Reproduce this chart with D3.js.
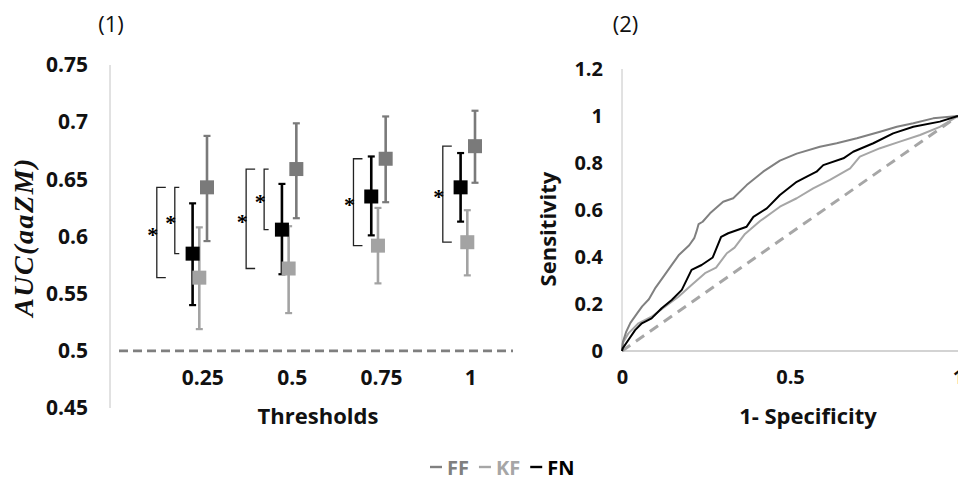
<!DOCTYPE html>
<html>
<head>
<meta charset="utf-8">
<script src="https://cdn.jsdelivr.net/npm/d3@7/dist/d3.min.js"></script>
<style>
  html, body { margin: 0; padding: 0; background: #fff; }
  svg { display: block; }
  text { font-family: "Open Sans", "Noto Sans", sans-serif; }
</style>
</head>
<body>
<svg id="chart" width="958" height="481"></svg>
<script>
// ---------- DATA ----------
const thresholds = ["0.25", "0.5", "0.75", "1"];
const seriesNames = ["FF", "KF", "FN"];

const ffMean  = [0.643, 0.659, 0.668, 0.679];
const ffLow   = [0.596, 0.616, 0.630, 0.647];
const ffHigh  = [0.688, 0.699, 0.705, 0.710];

const kfMean  = [0.564, 0.572, 0.592, 0.595];
const kfLow   = [0.519, 0.533, 0.559, 0.566];
const kfHigh  = [0.608, 0.609, 0.625, 0.623];

const fnMean  = [0.585, 0.606, 0.635, 0.643];
const fnLow   = [0.540, 0.567, 0.601, 0.613];
const fnHigh  = [0.629, 0.646, 0.670, 0.673];

const chanceAUC = 0.5;

const leftYTicks  = [0.45, 0.5, 0.55, 0.6, 0.65, 0.7, 0.75];
const rightYTicks = [0, 0.2, 0.4, 0.6, 0.8, 1, 1.2];
const rightXTicks = [0, 0.5, 1];

// significance brackets: threshold, from series, to series, nesting level
const sigThreshold = ["0.25", "0.25", "0.5", "0.5", "0.75", "1"];
const sigFrom      = ["FF", "FF", "FF", "FF", "FF", "FF"];
const sigTo        = ["KF", "FN", "KF", "FN", "KF", "KF"];
const sigLevel     = [2, 1, 2, 1, 1, 1];

// ROC curves [1-specificity, sensitivity]
const rocFF = [[0,0],[0.003,0.04],[0.012,0.08],[0.025,0.12],[0.045,0.16],[0.06,0.19],[0.08,0.22],
  [0.1,0.27],[0.125,0.32],[0.145,0.36],[0.17,0.41],[0.2,0.45],[0.215,0.48],[0.222,0.51],[0.228,0.54],
  [0.24,0.55],[0.262,0.586],[0.301,0.635],[0.331,0.65],[0.371,0.706],[0.42,0.763],[0.47,0.81],
  [0.52,0.84],[0.589,0.869],[0.639,0.884],[0.699,0.905],[0.768,0.933],[0.818,0.954],[0.867,0.969],
  [0.926,0.99],[1,1]];
const rocKF = [[0,0],[0.002,0.033],[0.019,0.075],[0.049,0.118],[0.088,0.146],[0.128,0.189],[0.168,0.231],
  [0.207,0.281],[0.247,0.331],[0.28,0.355],[0.312,0.416],[0.335,0.44],[0.366,0.498],[0.411,0.553],
  [0.47,0.614],[0.52,0.65],[0.569,0.692],[0.619,0.728],[0.679,0.777],[0.708,0.827],[0.768,0.863],
  [0.827,0.891],[0.887,0.919],[0.946,0.954],[1,1]];
const rocFN = [[0,0],[0.002,0.011],[0.019,0.047],[0.039,0.089],[0.059,0.118],[0.088,0.139],[0.118,0.182],
  [0.148,0.217],[0.178,0.26],[0.207,0.345],[0.237,0.366],[0.27,0.398],[0.295,0.486],[0.316,0.501],
  [0.371,0.529],[0.391,0.571],[0.431,0.607],[0.47,0.664],[0.52,0.72],[0.55,0.742],[0.579,0.763],
  [0.599,0.791],[0.659,0.82],[0.688,0.848],[0.748,0.884],[0.807,0.926],[0.867,0.954],[0.946,0.976],[1,1]];
const rocChance = [[0,0],[1,1]];

// ---------- STYLE ----------
const colors = { FF: "#7a7a7a", KF: "#a3a3a3", FN: "#000000" };
const lineColors = { FF: "#808080", KF: "#a6a6a6", FN: "#000000" };
const offsets = { FN: -6.7, KF: 0, FF: 7.7 };
const axisGray = "#c4c4c4";

const svg = d3.select("#chart");

const seriesData = {
  FF: { mean: ffMean, low: ffLow, high: ffHigh },
  KF: { mean: kfMean, low: kfLow, high: kfHigh },
  FN: { mean: fnMean, low: fnLow, high: fnHigh }
};

// ---------- LEFT PANEL ----------
const yL = d3.scaleLinear().domain([0.45, 0.75]).range([408, 65]);
const xL = d3.scalePoint().domain(thresholds).range([199.3, 467.3]);

svg.append("text").attr("x", 111).attr("y", 32).attr("text-anchor", "middle")
  .style("font-size", "22px").attr("fill", "#111").text("(1)");

// y axis
const gyL = svg.append("g").attr("transform", "translate(110,0)")
  .call(d3.axisLeft(yL).tickValues(leftYTicks).tickSize(0).tickPadding(22).tickFormat(d => String(d)));
gyL.select(".domain").remove();
gyL.selectAll("text").style("font-size", "21px").style("font-weight", "bold")
  .style("font-family", "'Open Sans', sans-serif").attr("fill", "#111");
svg.append("line").attr("x1", 110).attr("x2", 110).attr("y1", yL(0.75)).attr("y2", yL(0.45))
  .attr("stroke", axisGray).attr("stroke-width", 1);

// x category labels
const gxL = svg.append("g").attr("transform", "translate(3,370)")
  .call(d3.axisBottom(xL).tickSize(0).tickPadding(0));
gxL.select(".domain").remove();
gxL.selectAll("text").style("font-size", "21px").style("font-weight", "bold")
  .style("font-family", "'Open Sans', sans-serif").attr("fill", "#111");

svg.append("text").attr("x", 318).attr("y", 424).attr("text-anchor", "middle")
  .style("font-size", "22px").style("font-weight", "bold").attr("fill", "#111").text("Thresholds");

svg.append("text")
  .attr("transform", `translate(33,237) rotate(-90)`)
  .attr("text-anchor", "middle")
  .style("font-family", "'Liberation Serif', 'DejaVu Serif', serif")
  .style("font-style", "italic").style("font-weight", "bold")
  .style("font-size", "28px").style("letter-spacing", "1.5px")
  .attr("fill", "#111").text("AUC(aaZM)");

// chance line
svg.append("line").attr("x1", 119).attr("x2", 513).attr("y1", yL(chanceAUC)).attr("y2", yL(chanceAUC))
  .attr("stroke", "#7f7f7f").attr("stroke-width", 2.6).attr("stroke-dasharray", "9,5");

// error bars
const errG = svg.append("g");
seriesNames.forEach(s => {
  const d = seriesData[s];
  thresholds.forEach((t, i) => {
    const x = xL(t) + offsets[s];
    const c = s === "FN" ? "#000" : colors[s];
    errG.append("line").attr("x1", x).attr("x2", x).attr("y1", yL(d.low[i])).attr("y2", yL(d.high[i]))
      .attr("stroke", c).attr("stroke-width", 2.6);
    [d.low[i], d.high[i]].forEach(v => {
      errG.append("line").attr("x1", x - 3.5).attr("x2", x + 3.5).attr("y1", yL(v)).attr("y2", yL(v))
        .attr("stroke", c).attr("stroke-width", 2.2);
    });
  });
});
// markers
const mkG = svg.append("g");
seriesNames.forEach(s => {
  const d = seriesData[s];
  thresholds.forEach((t, i) => {
    const x = xL(t) + offsets[s];
    mkG.append("rect").attr("x", x - 7).attr("y", yL(d.mean[i]) - 7)
      .attr("width", 14).attr("height", 14).attr("fill", colors[s]);
  });
});

// significance brackets
const brG = svg.append("g");
sigThreshold.forEach((t, k) => {
  const i = thresholds.indexOf(t);
  const hasOuter = sigThreshold.some((tt, kk) => tt === t && sigLevel[kk] === 2);
  const bx = xL(t) + (sigLevel[k] === 2 ? -42.5 : -24.5);
  const tick = (sigLevel[k] === 1 && hasOuter) ? 4.5 : 9;
  const y1 = yL(seriesData[sigFrom[k]].mean[i]);
  const y2 = yL(seriesData[sigTo[k]].mean[i]);
  brG.append("path")
    .attr("d", `M${bx + tick},${y1}H${bx}V${y2}H${bx + tick}`)
    .attr("fill", "none").attr("stroke", "#222").attr("stroke-width", 1.3);
  brG.append("text").attr("x", bx - 4).attr("y", (y1 + y2) / 2 + 10)
    .attr("text-anchor", "middle")
    .style("font-family", "'Liberation Serif', serif").style("font-size", "22px")
    .style("font-weight", "bold")
    .attr("fill", "#000").text("*");
});

// ---------- RIGHT PANEL ----------
const xR = d3.scaleLinear().domain([0, 1]).range([622, 958]);
const yR = d3.scaleLinear().domain([0, 1.2]).range([351, 69]);

svg.append("text").attr("x", 625.5).attr("y", 32).attr("text-anchor", "middle")
  .style("font-size", "22px").attr("fill", "#111").text("(2)");

const gyR = svg.append("g").attr("transform", "translate(622,0)")
  .call(d3.axisLeft(yR).tickValues(rightYTicks).tickSize(0).tickPadding(19).tickFormat(d => String(d)));
gyR.select(".domain").remove();
gyR.selectAll("text").style("font-size", "20px").style("font-weight", "bold")
  .style("font-family", "'Open Sans', sans-serif").attr("fill", "#111");

const gxR = svg.append("g").attr("transform", "translate(0,370)")
  .call(d3.axisBottom(xR).tickValues(rightXTicks).tickSize(0).tickPadding(0).tickFormat(d => String(d)));
gxR.select(".domain").remove();
gxR.selectAll("text").style("font-size", "20px").style("font-weight", "bold")
  .style("font-family", "'Open Sans', sans-serif").attr("fill", "#111");

svg.append("line").attr("x1", 622).attr("x2", 622).attr("y1", yR(1.2)).attr("y2", yR(0))
  .attr("stroke", axisGray).attr("stroke-width", 1);
svg.append("line").attr("x1", 622).attr("x2", 958).attr("y1", yR(0)).attr("y2", yR(0))
  .attr("stroke", axisGray).attr("stroke-width", 1.5);

svg.append("text").attr("x", 808).attr("y", 424).attr("text-anchor", "middle")
  .style("font-size", "22px").style("font-weight", "bold").attr("fill", "#111").text("1- Specificity");

svg.append("text").attr("transform", "translate(556,229) rotate(-90)").attr("text-anchor", "middle")
  .style("font-size", "22px").style("font-weight", "bold").attr("fill", "#111").text("Sensitivity");

const line = d3.line().x(d => xR(d[0])).y(d => yR(d[1]));
svg.append("path").datum(rocChance).attr("d", line).attr("fill", "none")
  .attr("stroke", "#a6a6a6").attr("stroke-width", 3).attr("stroke-dasharray", "10,7");
[["KF", rocKF], ["FF", rocFF], ["FN", rocFN]].forEach(([s, data]) => {
  svg.append("path").datum(data).attr("d", line).attr("fill", "none")
    .attr("stroke", lineColors[s]).attr("stroke-width", 2).attr("stroke-linejoin", "round");
});

// ---------- LEGEND ----------
const legend = svg.append("g").attr("transform", "translate(430,467)");
let lx = 0;
seriesNames.forEach(s => {
  legend.append("line").attr("x1", lx).attr("x2", lx + 12).attr("y1", 0).attr("y2", 0)
    .attr("stroke", lineColors[s]).attr("stroke-width", 2.4);
  const t = legend.append("text").attr("x", lx + 17).attr("y", 7.5)
    .style("font-size", "20px").style("font-weight", "bold").attr("fill", lineColors[s]).text(s);
  lx += 17 + t.node().getComputedTextLength() + 10;
});
</script>
</body>
</html>
